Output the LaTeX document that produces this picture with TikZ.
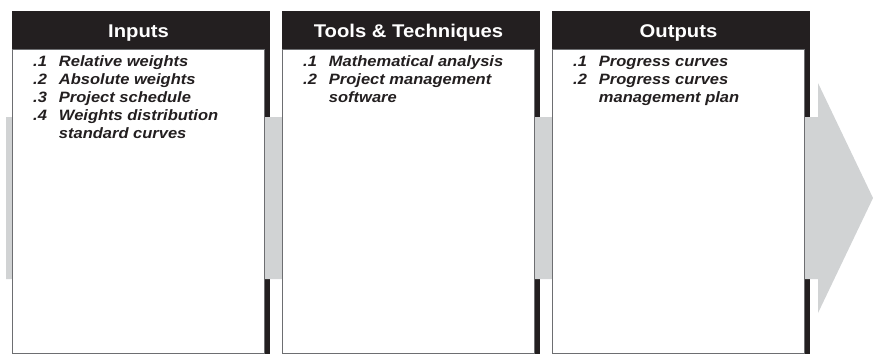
\documentclass[tikz,border=0pt]{standalone}
\usepackage{fontspec}
\newfontfamily\pmfont[FakeStretch=1.1]{Liberation Sans}
\newlength{\du}
\setlength{\du}{1pt}
\definecolor{bandgray}{HTML}{D1D3D4}
\definecolor{inkblack}{HTML}{231F20}
\definecolor{rulegray}{HTML}{6D6E71}
\tikzset{
  headtext/.style={anchor=base, inner sep=0pt, text=white,
    font=\pmfont\bfseries\fontsize{18.4}{22}\selectfont},
  itemlist/.style={anchor=base west, inner sep=0pt, text=inkblack,
    font=\pmfont\bfseries\itshape\fontsize{15}{18}\selectfont},
  boxbody/.style={fill=white, draw=rulegray, line width=1\du},
  shadowbox/.style={fill=inkblack},
}

\begin{document}
\begin{tikzpicture}
\pgftransformxscale{1.000000}
\pgftransformyscale{-1.000000}
\useasboundingbox (0\du,0\du) rectangle (873\du,354\du);
% black heads, shadow strip on the right
\fill[shadowbox] (12\du,11\du) rectangle (270\du,354\du);
\fill[shadowbox] (282\du,11\du) rectangle (540\du,354\du);
\fill[shadowbox] (552\du,11\du) rectangle (810\du,354\du);
% grey arrow behind the boxes
\fill[bandgray] (6\du,117\du) -- (818\du,117\du) -- (818\du,83\du)
  -- (873\du,198\du) -- (818\du,313\du) -- (818\du,279\du)
  -- (6\du,279\du) -- cycle;
% white bodies
\draw[boxbody] (12.5\du,49\du) rectangle (264\du,353.5\du);
\draw[boxbody] (282.5\du,49\du) rectangle (534\du,353.5\du);
\draw[boxbody] (552.5\du,49\du) rectangle (804\du,353.5\du);
% setfont left to latex
\node[headtext] (inputs-head) at (138.5\du,37.5\du) {Inputs};
\node[headtext] (tools-head) at (408.5\du,37.5\du) {Tools \& Techniques};
\node[headtext] (outputs-head) at (678.5\du,37.5\du) {Outputs};
% setfont left to latex
\node[itemlist] (inputs-list) at (33\du,66\du) {%
  \begin{tabular}[t]{@{}l@{\hspace{12\du}}l@{}}
  .1 & Relative weights\\
  .2 & Absolute weights\\
  .3 & Project schedule\\
  .4 & Weights distribution\\
     & standard curves
  \end{tabular}};
\node[itemlist] (tools-list) at (303\du,66\du) {%
  \begin{tabular}[t]{@{}l@{\hspace{12\du}}l@{}}
  .1 & Mathematical analysis\\
  .2 & Project management\\
     & software
  \end{tabular}};
\node[itemlist] (outputs-list) at (573\du,66\du) {%
  \begin{tabular}[t]{@{}l@{\hspace{12\du}}l@{}}
  .1 & Progress curves\\
  .2 & Progress curves\\
     & management plan
  \end{tabular}};
\end{tikzpicture}
\end{document}
